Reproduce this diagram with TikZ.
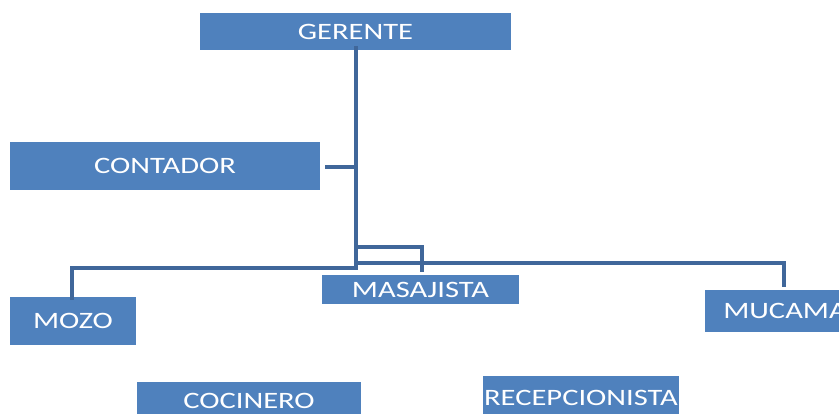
\documentclass[tikz,border=0pt]{standalone}
\usepackage{fontspec}
\newfontfamily\boxfont{Carlito}[FakeStretch=1.3]
\definecolor{boxblue}{HTML}{4F81BD}
\definecolor{lineblue}{HTML}{40679A}
\begin{document}
\begin{tikzpicture}[x=1pt,y=-1pt,
  orgbox/.style={fill=boxblue,draw=none,inner sep=0pt,text=white,
    font=\boxfont\fontsize{23.5}{26}\selectfont,anchor=center},
  conn/.style={draw=lineblue,line width=3.6pt}]
\useasboundingbox (0,0) rectangle (839,414);
\clip (0,0) rectangle (839,414);
\node[orgbox,minimum width=311pt,minimum height=37pt] (ger) at (355.5,31.5) {GERENTE};
\node[orgbox,minimum width=310pt,minimum height=48pt] (cont) at (165,166) {CONTADOR};
\node[orgbox,minimum width=126pt,minimum height=48pt] (mozo) at (73,321) {MOZO};
\node[orgbox,minimum width=197pt,minimum height=29pt] (mas) at (420.5,289.5) {MASAJISTA};
\node[orgbox,minimum width=160pt,minimum height=42pt] (muc) at (785,311) {MUCAMA};
\node[orgbox,minimum width=224pt,minimum height=38pt] (coc) at (249,401) {COCINERO};
\node[orgbox,minimum width=196pt,minimum height=44pt] (rec) at (581,398) {RECEPCIONISTA};
\coordinate (top) at ([yshift=4pt]ger.south -| 356,0);
\coordinate (jmoz) at (356,268);
\coordinate (jmas) at (356,247);
\coordinate (jmuc) at (356,263);
\coordinate (jcon) at (356,167);
\draw[conn] (top) -- (jmoz) -| ([yshift=-3pt]mozo.north -| 72,0);
\draw[conn] ([xshift=5pt]cont.east |- jcon) -- (jcon);
\draw[conn] (jmas) -| (422,272);
\draw[conn] (jmuc) -| (784,287);
\end{tikzpicture}
\end{document}
